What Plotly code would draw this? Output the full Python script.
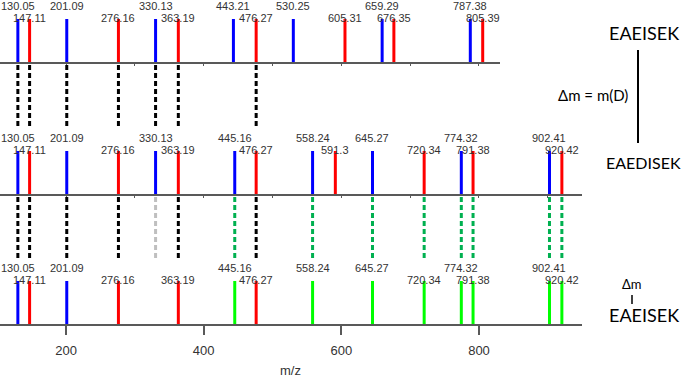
import plotly.graph_objects as go

# ---------------- data ----------------
top_b = [130.05, 201.09, 330.13, 443.21, 530.25, 659.29, 787.38]
top_y = [147.11, 276.16, 363.19, 476.27, 605.31, 676.35, 805.39]

mid_b = [130.05, 201.09, 330.13, 445.16, 558.24, 645.27, 774.32, 902.41]
mid_y = [147.11, 276.16, 363.19, 476.27, 591.3, 720.34, 791.38, 920.42]

bot_b = [130.05, 201.09, 445.16, 558.24, 645.27, 774.32, 902.41]
bot_b_shift = [False, False, True, True, True, True, True]
bot_y = [147.11, 276.16, 363.19, 476.27, 720.34, 791.38, 920.42]
bot_y_shift = [False, False, False, False, True, True, True]

conn_top_black = [130.05, 147.11, 201.09, 276.16, 330.13, 363.19, 476.27]
conn_bot_black = [130.05, 147.11, 201.09, 276.16, 363.19, 476.27]
conn_bot_gray = [330.13]
conn_bot_green = [445.16, 558.24, 645.27, 720.34, 774.32, 791.38, 902.41, 920.42]

peak_intensity = 100
x_ticks = [200, 400, 600, 800]

# ---------------- style / layout constants ----------------
W, H = 685, 377
def py(px):
    return 1 - px / H

BLUE, RED, LIME = "#0000ff", "#ff0000", "#00ff00"
DGREEN, GRAY = "#00b050", "#bfbfbf"
AXC = "#595959"
TXT = "#333333"
XMIN = 104.1
YR = 144.2
Y_UP, Y_LO = 129.5, 103

fig = go.Figure()

def add_peaks(xs, color, xa, ya):
    X, Y = [], []
    for v in xs:
        X += [v, v, None]
        Y += [0, peak_intensity, None]
    fig.add_trace(go.Scatter(x=X, y=Y, mode="lines", line=dict(color=color, width=3),
                             xaxis=xa, yaxis=ya, hoverinfo="skip", showlegend=False))

def add_labels(xs, level, xa, ya):
    for v in xs:
        fig.add_annotation(x=v, y=level, xref=xa, yref=ya, text=f"{v:g}",
                           showarrow=False, font=dict(size=11, color=TXT, family="Liberation Sans"),
                           xanchor="center", yanchor="middle")

# top panel
add_peaks(top_b, BLUE, "x", "y")
add_peaks(top_y, RED, "x", "y")
add_labels(top_b, Y_UP, "x", "y")
add_labels(top_y, Y_LO, "x", "y")

# middle panel
add_peaks(mid_b, BLUE, "x2", "y2")
add_peaks(mid_y, RED, "x2", "y2")
add_labels(mid_b, Y_UP, "x2", "y2")
add_labels(mid_y, Y_LO, "x2", "y2")

# bottom panel
add_peaks([v for v, s in zip(bot_b, bot_b_shift) if not s], BLUE, "x3", "y3")
add_peaks([v for v, s in zip(bot_y, bot_y_shift) if not s], RED, "x3", "y3")
add_peaks([v for v, s in zip(bot_b, bot_b_shift) if s] + [v for v, s in zip(bot_y, bot_y_shift) if s], LIME, "x3", "y3")
add_labels(bot_b, Y_UP, "x3", "y3")
add_labels(bot_y, Y_LO, "x3", "y3")

# dashed connectors
def add_conn(xs, color, y0px, y1px):
    for v in xs:
        fig.add_shape(type="line", xref="x2", yref="paper", x0=v, x1=v, y0=py(y0px), y1=py(y1px),
                      line=dict(color=color, width=3, dash="5px,3px"))

add_conn(conn_top_black, "black", 65, 128)
add_conn(conn_bot_black, "black", 197, 259)
add_conn(conn_bot_gray, GRAY, 197, 259)
add_conn(conn_bot_green, DGREEN, 197, 259)

xcommon = dict(showline=True, linecolor=AXC, linewidth=1.5, showgrid=False, zeroline=False,
               fixedrange=True)
ycommon = dict(visible=False, range=[0, YR], fixedrange=True)

fig.update_layout(
    width=W, height=H,
    margin=dict(l=0, r=0, t=0, b=0),
    paper_bgcolor="white", plot_bgcolor="white",
    showlegend=False,
    xaxis=dict(domain=[0, 500 / W], range=[XMIN, XMIN + 500 / 0.6883], anchor="y",
               ticks="outside", ticklen=2, dtick=100, tick0=0, tickcolor=AXC, showticklabels=False, **xcommon),
    xaxis2=dict(domain=[0, 582 / W], range=[XMIN, XMIN + 582 / 0.6883], anchor="y2",
                ticks="outside", ticklen=2, dtick=100, tick0=0, tickcolor=AXC, showticklabels=False, **xcommon),
    xaxis3=dict(domain=[0, 582 / W], range=[XMIN, XMIN + 582 / 0.6883], anchor="y3",
                ticks="outside", ticklen=9, tickwidth=1.5, tickcolor=AXC,
                tickvals=x_ticks, ticktext=[str(t) for t in x_ticks], ticklabelstandoff=5,
                tickfont=dict(size=13, color=TXT, family="Liberation Sans"), **xcommon),
    yaxis=dict(domain=[py(62), 1], anchor="x", **ycommon),
    yaxis2=dict(domain=[py(194), py(132)], anchor="x2", **ycommon),
    yaxis3=dict(domain=[py(324), py(262)], anchor="x3", **ycommon),
)

# axis title
fig.add_annotation(x=290 / W, y=py(370), xref="paper", yref="paper", text="m/z", showarrow=False,
                   font=dict(size=13, color=TXT, family="Liberation Sans"), xanchor="center", yanchor="middle")

# right-side annotations
RF = "Lato"
fig.add_annotation(x=607 / W, y=py(33), xref="paper", yref="paper", text="EAEISEK", showarrow=False,
                   font=dict(size=18, color="black", family=RF), xanchor="left", yanchor="middle")
fig.add_annotation(x=604 / W, y=py(162), xref="paper", yref="paper", text="EAEDISEK", showarrow=False,
                   font=dict(size=16, color="black", family=RF), xanchor="left", yanchor="middle")
fig.add_annotation(x=593 / W, y=py(95), xref="paper", yref="paper", text="Δm = m(D)", showarrow=False,
                   font=dict(size=15, color="black", family=RF), xanchor="center", yanchor="middle")
fig.add_shape(type="line", xref="paper", yref="paper", x0=638 / W, x1=638 / W, y0=py(50), y1=py(143),
              line=dict(color="black", width=2))
fig.add_annotation(x=632 / W, y=py(284), xref="paper", yref="paper", text="Δm", showarrow=False,
                   font=dict(size=13, color="black", family=RF), xanchor="center", yanchor="middle")
fig.add_shape(type="line", xref="paper", yref="paper", x0=632 / W, x1=632 / W, y0=py(295), y1=py(304),
              line=dict(color="black", width=1.5))
fig.add_annotation(x=607 / W, y=py(315), xref="paper", yref="paper", text="EAEISEK", showarrow=False,
                   font=dict(size=18, color="black", family=RF), xanchor="left", yanchor="middle")

fig.write_html("out.html", config={"displayModeBar": False},
               post_script="document.body.style.margin='0';document.body.style.overflow='hidden';")
